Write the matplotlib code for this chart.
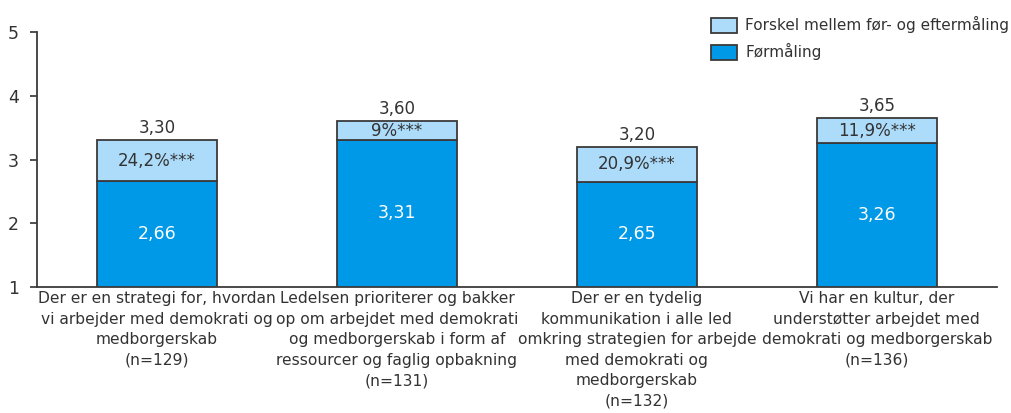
import numpy as np
import matplotlib.pyplot as plt

# Data
categories = [
    'Der er en strategi for, hvordan\nvi arbejder med demokrati og\nmedborgerskab\n(n=129)',
    'Ledelsen prioriterer og bakker\nop om arbejdet med demokrati\nog medborgerskab i form af\nressourcer og faglig opbakning\n(n=131)',
    'Der er en tydelig\nkommunikation i alle led\nomkring strategien for arbejde\nmed demokrati og\nmedborgerskab\n(n=132)',
    'Vi har en kultur, der\nunderstøtter arbejdet med\ndemokrati og medborgerskab\n(n=136)',
]
foermaaling = [2.66, 3.31, 2.65, 3.26]
eftermaaling = [3.30, 3.60, 3.20, 3.65]
forskel_labels = ['24,2%***', '9%***', '20,9%***', '11,9%***']

dark_blue = '#0099E8'
light_blue = '#ADDCFA'
edge = '#3a3a3a'
txt = '#333333'

plt.rcParams['font.family'] = ['DejaVu Sans']

fig = plt.figure(figsize=(10.11, 4.13), dpi=100)
ax = fig.add_axes([0.0366, 0.305, 0.9494, 0.6175])

x = np.arange(len(categories))
base = 1
b1 = ax.bar(x, np.array(foermaaling) - base, bottom=base, width=0.5,
            color=dark_blue, edgecolor=edge, linewidth=1.3, label='Førmåling', zorder=3)
diff = np.array(eftermaaling) - np.array(foermaaling)
b2 = ax.bar(x, diff, bottom=foermaaling, width=0.5,
            color=light_blue, edgecolor=edge, linewidth=1.3,
            label='Forskel mellem før- og eftermåling', zorder=3)

for i in range(len(x)):
    ax.text(x[i], (base + foermaaling[i]) / 2, f'{foermaaling[i]:.2f}'.replace('.', ','),
            ha='center', va='center', color='white', fontsize=12.5)
    ax.text(x[i], (foermaaling[i] + eftermaaling[i]) / 2, forskel_labels[i],
            ha='center', va='center', color=txt, fontsize=12)
    ax.text(x[i], eftermaaling[i] + 0.05, f'{eftermaaling[i]:.2f}'.replace('.', ','),
            ha='center', va='bottom', color=txt, fontsize=12)

ax.set_xlim(-0.5, 3.5)
ax.set_ylim(1, 5)
ax.set_yticks([1, 2, 3, 4, 5])
ax.set_xticks(x)
ax.set_xticklabels(categories, fontsize=11.2, color=txt, linespacing=1.46)
ax.tick_params(axis='x', length=0, pad=3)
ax.tick_params(axis='y', labelsize=12.5, colors=txt, length=5, width=1.2, pad=8)
for s in ['top', 'right']:
    ax.spines[s].set_visible(False)
for s in ['left', 'bottom']:
    ax.spines[s].set_color(edge)
    ax.spines[s].set_linewidth(1.3)

handles = [b2, b1]
leg = ax.legend(handles, [h.get_label() for h in handles], loc='upper right',
                bbox_to_anchor=(1.027, 1.115), frameon=False, fontsize=11,
                handlelength=1.7, handleheight=1.1, handletextpad=0.5,
                labelspacing=0.65, labelcolor=txt)

fig.savefig('out.png', dpi=100)
